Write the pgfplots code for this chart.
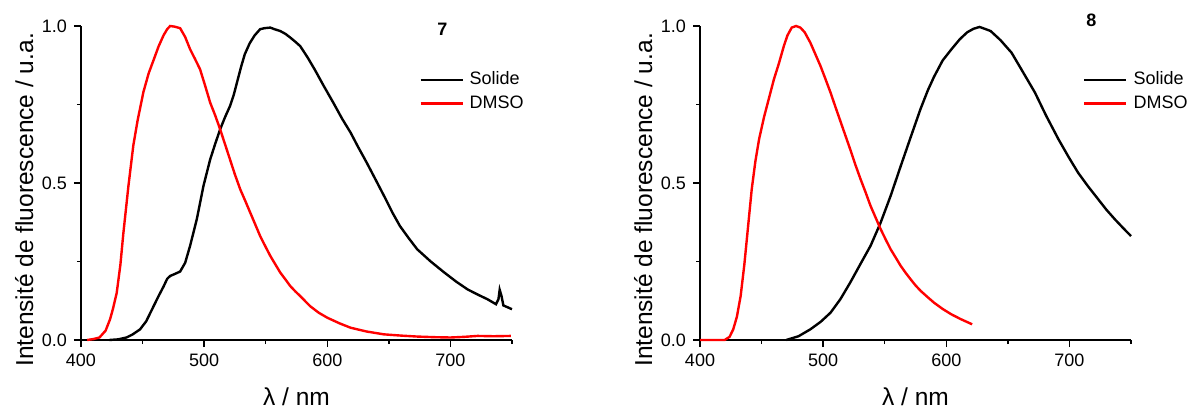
\documentclass[border=0pt]{standalone}
\usepackage{fontspec}
\setmainfont{Liberation Sans}
\usepackage{pgfplots}
\pgfplotsset{compat=1.18}

\pgfplotsset{myax/.style={
  scale only axis, width=215.5pt, height=157pt,
  axis lines=left, axis line style={-, line width=0.75pt},
  xmin=400, xmax=750, ymin=0, ymax=1,
  xtick={400,500,600,700}, minor xtick={450,550,650,750},
  ytick={0,0.5,1}, minor ytick={0.25,0.75},
  tick align=outside, major tick length=3.5pt, minor tick length=2pt,
  every tick/.style={black, line width=0.75pt},
  tick label style={font=\fontsize{9}{10}\selectfont},
  /pgf/number format/assume math mode=true,
  yticklabel style={/pgf/number format/fixed, /pgf/number format/fixed zerofill, /pgf/number format/precision=1},
  xticklabel style={/pgf/number format/1000 sep={}},
  xlabel={λ / nm},
  ylabel={Intensité de fluorescence / u.a.},
  label style={font=\fontsize{12.25}{14}\selectfont},
  xlabel style={at={(axis description cs:0.5,-0.207)}, anchor=base},
  ylabel style={at={(axis description cs:-0.111,0.446)}, anchor=base},
  clip=false,
  legend image code/.code={\draw[#1] (0pt,0pt) -- (21pt,0pt);},
  legend cell align=left,
  legend style={draw=none, fill=none, inner sep=0pt, font=\fontsize{9}{10}\selectfont,
    row sep=2pt, column sep=2pt, nodes={inner sep=1pt}},
}}

\begin{document}
\begin{tikzpicture}
\useasboundingbox (-40.5pt,-34pt) rectangle (553.5pt,170pt);
\begin{axis}[myax, at={(0pt,0pt)}, anchor=south west,
  legend style={at={(axis description cs:0.784,0.862)}, anchor=north west}]
\addplot[black, line width=1.2pt] coordinates {
(423,0.0) (430,0.002) (437,0.008) (442,0.018) (448,0.034) (453,0.06) (459,0.108)
(463,0.14) (467,0.17) (470,0.195) (472.4,0.204) (476,0.21) (480.5,0.218) (484.6,0.246)
(488.6,0.30) (494,0.384) (499.4,0.49) (504.9,0.575) (509,0.625) (513,0.671) (517,0.71)
(521,0.745) (524,0.78) (527,0.825) (530,0.87) (533,0.91) (537,0.945)
(541,0.97) (545.5,0.99) (549,0.993) (553.7,0.995) (557,0.99) (561.8,0.984) (566,0.975)
(570,0.963) (574,0.95) (578,0.936) (584,0.9) (590,0.86) (597,0.81) (605,0.755)
(612,0.705) (619,0.66) (625,0.615) (632,0.565) (640,0.505) (647,0.452) (653,0.405)
(659,0.363) (666,0.325) (673,0.289) (684,0.25) (695,0.215) (705,0.185) (714,0.161)
(722,0.145) (730,0.13) (737,0.114) (739,0.13) (740,0.16) (741.5,0.14) (743,0.11)
(746,0.105) (750,0.098)
};
\addlegendentry{Solide}
\addplot[red, line width=1.2pt] coordinates {
(405,0) (410,0.003) (415,0.008) (420,0.03) (423.6,0.066) (426,0.1) (429,0.15)
(432,0.24) (434.4,0.34) (438.5,0.49) (442.5,0.62) (446,0.70) (450.7,0.79) (455,0.85)
(458.8,0.89) (463,0.935) (467,0.97) (470,0.99) (472.4,1.0) (476,0.998) (480.5,0.993)
(484.6,0.965) (488.6,0.926) (492.6,0.895) (496.7,0.862) (500.8,0.81) (504.9,0.756)
(509,0.715) (513,0.671) (517,0.623) (521,0.575) (525,0.527) (529.3,0.48) (533.4,0.443)
(537.4,0.406) (541.5,0.368) (545.5,0.331) (549.6,0.299) (553.7,0.268) (557.8,0.241)
(561.8,0.215) (566,0.193) (569.9,0.172) (574,0.155) (578,0.14) (586,0.108)
(593,0.087) (600,0.071) (610,0.053) (619,0.039) (632,0.027) (646,0.018) (660,0.014)
(673,0.011) (687,0.009) (700,0.008) (711,0.01) (722,0.013) (735,0.012) (749,0.013)
};
\addlegendentry{DMSO}
\node[font=\bfseries\fontsize{9}{10}\selectfont] at (axis cs:693.5,0.99) {7};
\end{axis}

\begin{axis}[myax, at={(309.5pt,0pt)}, anchor=south west,
  legend style={at={(axis description cs:0.888,0.862)}, anchor=north west}]
\addplot[black, line width=1.2pt] coordinates {
(470,0) (480,0.012) (489.6,0.034) (498,0.058) (506,0.087) (514,0.13) (522,0.183)
(530,0.24) (538.5,0.30) (546.7,0.374) (554.8,0.459) (563,0.554) (571,0.645)
(579,0.735) (585,0.795) (590,0.838) (597,0.89) (604,0.925) (611,0.958)
(617,0.98) (622,0.991) (627,0.997) (632,0.99) (636,0.984) (644,0.955) (653,0.915)
(662,0.855) (672,0.788) (681,0.715) (691,0.64) (699,0.585) (707,0.533) (715,0.49)
(723,0.45) (730,0.415) (737,0.384) (744,0.355) (750,0.331)
};
\addlegendentry{Solide}
\addplot[red, line width=1.2pt] coordinates {
(400,0) (410,0) (420,0) (424,0.01) (427,0.034) (430,0.075) (433,0.14) (436,0.24)
(439,0.36) (442,0.48) (445,0.57) (448,0.64) (452,0.71) (456,0.77) (460,0.83)
(464,0.88) (468,0.935) (471,0.97) (474.5,0.995) (478,1.0) (481.5,0.995) (485,0.98)
(489.6,0.947) (493.7,0.91) (497.8,0.873) (502,0.83) (506,0.788) (510,0.742)
(514,0.697) (518,0.652) (522,0.607) (526,0.56) (530.4,0.512) (534.5,0.47)
(538.5,0.427) (542.6,0.39) (546.7,0.353) (550.8,0.32) (554.8,0.289) (559,0.262)
(563,0.236) (567,0.214) (571.1,0.193) (575,0.174) (579.3,0.156) (585,0.136)
(590,0.119) (597,0.099) (604,0.082) (612,0.066) (621,0.05)
};
\addlegendentry{DMSO}
\node[font=\bfseries\fontsize{9}{10}\selectfont] at (axis cs:717.8,1.018) {8};
\end{axis}
\end{tikzpicture}
\end{document}
